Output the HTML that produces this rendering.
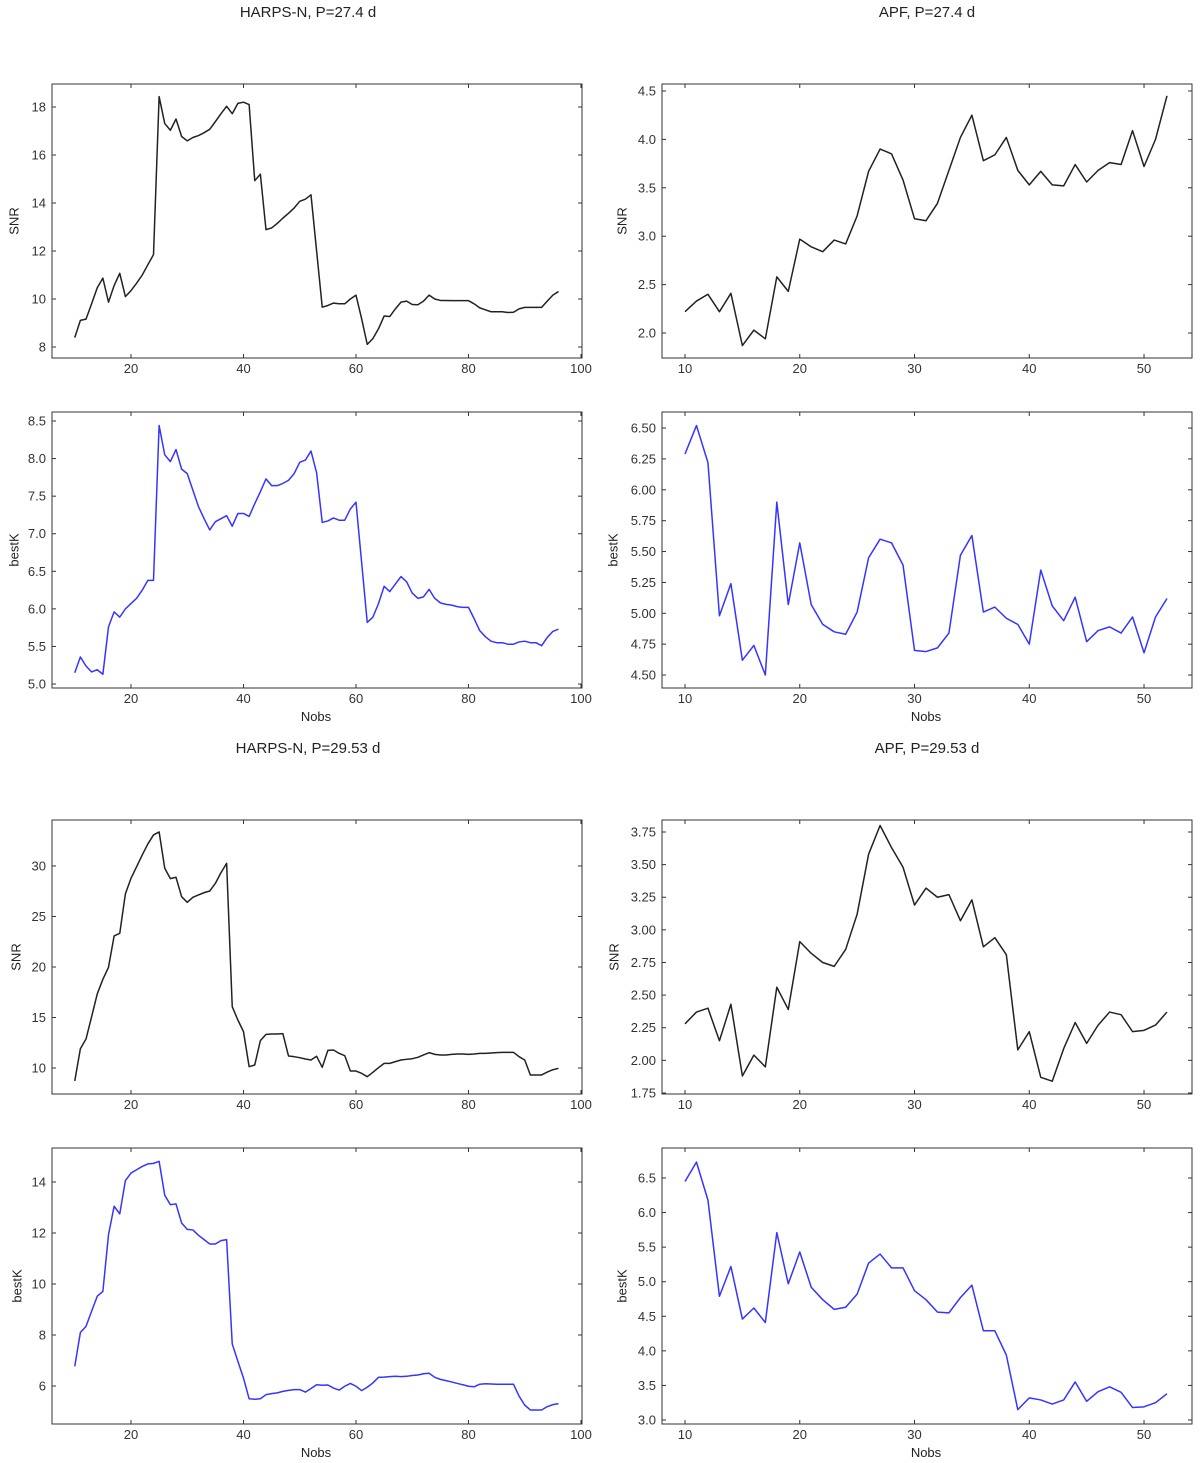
<!DOCTYPE html>
<html><head><meta charset="utf-8"><title>SNR and bestK vs Nobs</title>
<style>
html,body{margin:0;padding:0;background:#fff;}
svg{display:block;font-family:"Liberation Sans","DejaVu Sans",sans-serif;}
</style></head>
<body>
<svg id="fig" width="1200" height="1463" viewBox="0 0 1200 1463" xmlns="http://www.w3.org/2000/svg"></svg>
<script>
// ---- data ----
const harpsNobs = []; for (let n = 10; n <= 96; n++) harpsNobs.push(n);
const apfNobs = []; for (let n = 10; n <= 52; n++) apfNobs.push(n);

const harps274SNR = [8.39,9.11,9.16,9.8,10.47,10.87,9.87,10.56,11.07,10.1,10.35,10.66,11.0,11.43,11.85,18.43,17.31,17.03,17.5,16.77,16.59,16.73,16.81,16.93,17.07,17.39,17.72,18.03,17.72,18.15,18.2,18.1,14.93,15.2,12.89,12.96,13.15,13.37,13.57,13.79,14.07,14.16,14.34,12.0,9.66,9.73,9.83,9.8,9.8,10.0,10.16,9.18,8.11,8.35,8.76,9.29,9.27,9.59,9.87,9.91,9.77,9.76,9.91,10.16,10.0,9.94,9.94,9.93,9.93,9.93,9.93,9.8,9.63,9.55,9.47,9.47,9.47,9.44,9.45,9.59,9.65,9.65,9.65,9.65,9.91,10.16,10.31];
const harps274K = [5.15,5.36,5.24,5.16,5.19,5.13,5.76,5.96,5.89,6.0,6.07,6.14,6.25,6.38,6.38,8.44,8.05,7.96,8.12,7.86,7.8,7.58,7.36,7.2,7.05,7.16,7.2,7.24,7.1,7.27,7.27,7.23,7.4,7.56,7.73,7.64,7.64,7.67,7.71,7.8,7.95,7.98,8.1,7.81,7.15,7.17,7.21,7.18,7.18,7.33,7.42,6.62,5.82,5.89,6.07,6.3,6.23,6.33,6.43,6.36,6.21,6.14,6.16,6.26,6.14,6.08,6.06,6.05,6.03,6.02,6.02,5.87,5.71,5.63,5.57,5.55,5.55,5.53,5.53,5.56,5.57,5.55,5.55,5.51,5.62,5.7,5.73];
const harps2953SNR = [8.71,11.91,12.87,15.08,17.33,18.78,19.97,23.07,23.33,27.23,28.78,29.93,31.09,32.18,33.07,33.37,29.77,28.75,28.88,26.96,26.4,26.9,27.13,27.36,27.52,28.28,29.34,30.26,16.07,14.75,13.6,10.13,10.3,12.71,13.33,13.37,13.37,13.4,11.19,11.12,11.02,10.89,10.79,11.16,10.07,11.75,11.78,11.45,11.22,9.7,9.7,9.47,9.14,9.57,10.03,10.46,10.46,10.63,10.79,10.86,10.92,11.06,11.29,11.52,11.35,11.29,11.29,11.35,11.39,11.39,11.35,11.39,11.45,11.45,11.49,11.52,11.55,11.55,11.55,11.12,10.79,9.31,9.31,9.31,9.6,9.83,9.97];
const harps2953K = [6.77,8.1,8.34,8.93,9.52,9.71,11.93,13.05,12.75,14.05,14.35,14.48,14.61,14.71,14.73,14.81,13.48,13.11,13.14,12.39,12.14,12.12,11.91,11.74,11.57,11.57,11.7,11.74,7.65,6.97,6.31,5.5,5.48,5.5,5.66,5.7,5.73,5.79,5.83,5.86,5.86,5.76,5.9,6.05,6.03,6.04,5.92,5.84,5.99,6.1,5.99,5.82,5.95,6.12,6.34,6.35,6.37,6.38,6.37,6.38,6.41,6.43,6.48,6.5,6.34,6.26,6.21,6.16,6.1,6.05,5.99,5.97,6.07,6.09,6.08,6.07,6.07,6.07,6.07,5.6,5.25,5.06,5.06,5.06,5.19,5.27,5.31];
const apf274SNR = [2.22,2.33,2.40,2.22,2.41,1.87,2.03,1.94,2.58,2.43,2.97,2.89,2.84,2.96,2.92,3.21,3.67,3.90,3.85,3.58,3.18,3.16,3.34,3.68,4.02,4.25,3.78,3.84,4.02,3.68,3.53,3.67,3.53,3.52,3.74,3.56,3.68,3.76,3.74,4.09,3.72,4.0,4.45];
const apf274K = [6.29,6.52,6.22,4.98,5.24,4.62,4.74,4.5,5.90,5.07,5.57,5.07,4.91,4.85,4.83,5.01,5.45,5.60,5.57,5.39,4.70,4.69,4.72,4.84,5.47,5.63,5.01,5.05,4.96,4.91,4.75,5.35,5.06,4.94,5.13,4.77,4.86,4.89,4.84,4.97,4.68,4.97,5.12];
const apf2953SNR = [2.28,2.37,2.40,2.15,2.43,1.88,2.04,1.95,2.56,2.39,2.91,2.82,2.75,2.72,2.85,3.12,3.58,3.80,3.63,3.48,3.19,3.32,3.25,3.27,3.07,3.23,2.87,2.94,2.81,2.08,2.22,1.87,1.84,2.09,2.29,2.13,2.27,2.37,2.35,2.22,2.23,2.27,2.37];
const apf2953K = [6.45,6.73,6.18,4.79,5.22,4.46,4.62,4.41,5.71,4.97,5.43,4.92,4.74,4.60,4.63,4.82,5.27,5.40,5.20,5.20,4.87,4.74,4.56,4.55,4.77,4.95,4.29,4.29,3.94,3.15,3.32,3.29,3.23,3.29,3.55,3.27,3.41,3.48,3.40,3.18,3.19,3.25,3.38];

const harpsXTicks = [20,40,60,80,100];
const apfXTicks = [10,20,30,40,50];
const ticksSNR274H = ["8","10","12","14","16","18"];
const ticksK274H = ["5.0","5.5","6.0","6.5","7.0","7.5","8.0","8.5"];
const ticksSNR274A = ["2.0","2.5","3.0","3.5","4.0","4.5"];
const ticksK274A = ["4.50","4.75","5.00","5.25","5.50","5.75","6.00","6.25","6.50"];
const ticksSNR2953H = ["10","15","20","25","30"];
const ticksK2953H = ["6","8","10","12","14"];
const ticksSNR2953A = ["1.75","2.00","2.25","2.50","2.75","3.00","3.25","3.50","3.75"];
const ticksK2953A = ["3.0","3.5","4.0","4.5","5.0","5.5","6.0","6.5"];

// ---- layout ----
const NS = "http://www.w3.org/2000/svg";
const svg = document.getElementById('fig');
function mk(tag, attrs, parent) {
  const e = document.createElementNS(NS, tag);
  for (const k in attrs) e.setAttribute(k, attrs[k]);
  (parent || svg).appendChild(e);
  return e;
}
const LEFT = [52, 582], RIGHT = [662, 1192];
const HX = [5.956, 100.18], AX = [7.996, 54.18];

const panels = [
  {name:'harps-27-snr', x:LEFT, y:[84,358], xd:HX, yd:[7.542,18.958], xs:harpsNobs, ys:harps274SNR, xt:harpsXTicks, yt:ticksSNR274H, color:'#222', ylab:'SNR', ylx:15, xlab:false},
  {name:'harps-27-bestk', x:LEFT, y:[412,688], xd:HX, yd:[4.947,8.62], xs:harpsNobs, ys:harps274K, xt:harpsXTicks, yt:ticksK274H, color:'#3535ff', ylab:'bestK', ylx:15, xlab:true},
  {name:'apf-27-snr', x:RIGHT, y:[84,358], xd:AX, yd:[1.742,4.572], xs:apfNobs, ys:apf274SNR, xt:apfXTicks, yt:ticksSNR274A, color:'#222', ylab:'SNR', ylx:623, xlab:false},
  {name:'apf-27-bestk', x:RIGHT, y:[412,688], xd:AX, yd:[4.395,6.630], xs:apfNobs, ys:apf274K, xt:apfXTicks, yt:ticksK274A, color:'#3535ff', ylab:'bestK', ylx:614, xlab:true},
  {name:'harps-29-snr', x:LEFT, y:[820,1094], xd:HX, yd:[7.426,34.55], xs:harpsNobs, ys:harps2953SNR, xt:harpsXTicks, yt:ticksSNR2953H, color:'#222', ylab:'SNR', ylx:17, xlab:false},
  {name:'harps-29-bestk', x:LEFT, y:[1148,1424], xd:HX, yd:[4.510,15.333], xs:harpsNobs, ys:harps2953K, xt:harpsXTicks, yt:ticksK2953H, color:'#3535ff', ylab:'bestK', ylx:18, xlab:true},
  {name:'apf-29-snr', x:RIGHT, y:[820,1094], xd:AX, yd:[1.742,3.842], xs:apfNobs, ys:apf2953SNR, xt:apfXTicks, yt:ticksSNR2953A, color:'#222', ylab:'SNR', ylx:615, xlab:false},
  {name:'apf-29-bestk', x:RIGHT, y:[1148,1424], xd:AX, yd:[2.942,6.934], xs:apfNobs, ys:apf2953K, xt:apfXTicks, yt:ticksK2953A, color:'#3535ff', ylab:'bestK', ylx:623, xlab:true}
];

// titles
const titles = [
  ['HARPS-N, P=27.4 d', 308, 17, 'title-harps-27'],
  ['APF, P=27.4 d', 927, 17, 'title-apf-27'],
  ['HARPS-N, P=29.53 d', 308, 753, 'title-harps-29'],
  ['APF, P=29.53 d', 927, 753, 'title-apf-29']
];
titles.forEach(t => {
  const e = mk('text', {x:t[1], y:t[2], 'text-anchor':'middle', 'font-size':'15', fill:'#222'});
  
  
  e.textContent = t[0];
});

panels.forEach(p => {
  const g = mk('g', {});
  
  
  const sx = v => p.x[0] + (v - p.xd[0]) / (p.xd[1] - p.xd[0]) * (p.x[1] - p.x[0]);
  const sy = v => p.y[1] - (v - p.yd[0]) / (p.yd[1] - p.yd[0]) * (p.y[1] - p.y[0]);

  // series
  let d = '';
  for (let i = 0; i < p.ys.length; i++) d += (i ? 'L' : 'M') + sx(p.xs[i]).toFixed(2) + ' ' + sy(p.ys[i]).toFixed(2);
  const line = mk('path', {d:d, fill:'none', stroke:p.color, 'stroke-width':'1.5', 'stroke-linejoin':'round'}, g);
  
  

  // frame
  const fr = mk('rect', {x:p.x[0], y:p.y[0], width:p.x[1]-p.x[0], height:p.y[1]-p.y[0], fill:'none', stroke:'#333', 'stroke-width':'1'}, g);
  
  

  // x ticks
  p.xt.forEach(v => {
    const x = sx(v);
    mk('line', {x1:x, x2:x, y1:p.y[1], y2:p.y[1]-4, stroke:'#333'}, g);
    mk('line', {x1:x, x2:x, y1:p.y[0], y2:p.y[0]+4, stroke:'#333'}, g);
    const t = mk('text', {x:x, y:p.y[1]+15, 'text-anchor':'middle', 'font-size':'13', fill:'#333'}, g);
    
    
    t.textContent = v;
  });
  // y ticks
  p.yt.forEach(s => {
    const y = sy(parseFloat(s));
    mk('line', {x1:p.x[0], x2:p.x[0]+4, y1:y, y2:y, stroke:'#333'}, g);
    mk('line', {x1:p.x[1], x2:p.x[1]-4, y1:y, y2:y, stroke:'#333'}, g);
    const t = mk('text', {x:p.x[0]-6, y:y+4.5, 'text-anchor':'end', 'font-size':'13', fill:'#333'}, g);
    
    
    t.textContent = s;
  });
  // y label
  const cy = (p.y[0] + p.y[1]) / 2;
  const yl = mk('text', {x:p.ylx, y:cy, 'text-anchor':'middle', 'font-size':'13', fill:'#222', transform:'rotate(-90 ' + p.ylx + ' ' + cy + ')', 'dominant-baseline':'middle'}, g);
  
  
  yl.textContent = p.ylab;
  if (p.xlab) {
    const xl = mk('text', {x:(p.x[0]+p.x[1])/2 - 1, y:p.y[1]+33, 'text-anchor':'middle', 'font-size':'13', fill:'#222'}, g);
    
    
    xl.textContent = 'Nobs';
  }
});
</script>
</body></html>
